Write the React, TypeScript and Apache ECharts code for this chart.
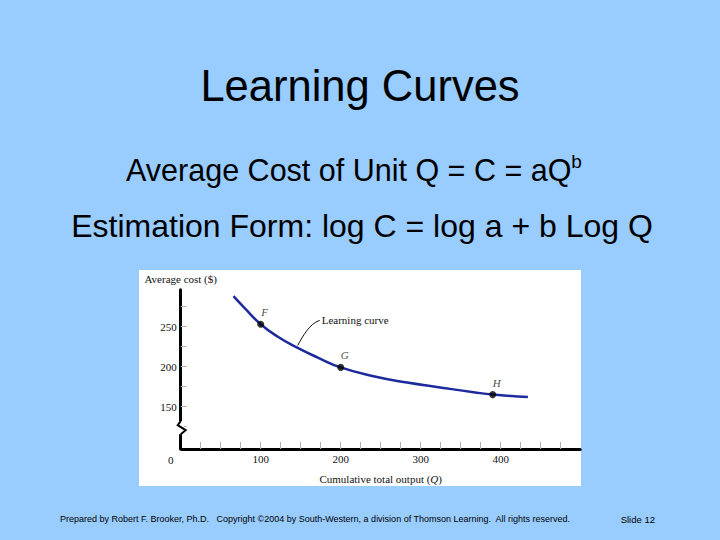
import React, { useEffect, useRef } from "react";
import * as echarts from "echarts";

// Learning curve readings (cumulative output Q, average cost $)
const outputQ = [66, 80, 100, 122, 145, 172, 200, 241, 283, 324, 366, 390, 434];
const averageCost = [288, 273, 253, 237, 224, 211, 199, 188, 180, 174, 168, 165, 162];

// Marked points
const pointNames = ["F", "G", "H"];
const pointQ = [100, 200, 390];
const pointCost = [253, 199, 165];

// Axis ticks / labels
const xTickValues = [25, 50, 75, 100, 125, 150, 175, 200, 225, 250, 275, 300, 325, 350, 375, 400, 425, 450, 475];
const xLabelValues = [0, 100, 200, 300, 400];
const yTickValues = [125, 150, 175, 200, 225, 250, 275];
const yLabelValues = [150, 200, 250];

// Annotation anchors
const leaderAnchor = [145, 224];
const axisBreakValue = 123;

const Y_MIN = 97;
const Y_MAX = 296;

const SANS = "'Liberation Sans', Arial, Helvetica, sans-serif";
const SERIF = "'Liberation Serif', 'Times New Roman', Times, serif";

export default function App() {
  const ref = useRef<HTMLDivElement>(null);

  useEffect(() => {
    if (!ref.current) return;
    const chart = echarts.init(ref.current, null, { renderer: "svg" });

    chart.setOption({
      animation: false,
      backgroundColor: "#99ccff",
      grid: {
        left: 180.7,
        top: 289.8,
        width: 400,
        height: 159.2,
        containLabel: false,
        outerBoundsMode: "none",
      },
      xAxis: {
        type: "value",
        min: 0,
        max: 500,
        splitLine: { show: false },
        axisLine: {
          onZero: false,
          lineStyle: { color: "#000", width: 3, type: [18.5, 1.5], dashOffset: 19.25 },
        },
        axisTick: {
          show: true,
          inside: true,
          length: 7,
          customValues: xTickValues,
          lineStyle: { color: "#b0b0b0", width: 1 },
        },
        axisLabel: {
          customValues: xLabelValues,
          margin: 4,
          color: "#111",
          fontFamily: SERIF,
          fontSize: 11,
          formatter: (v: number) => (v === 0 ? "{zero|0}" : String(v)),
          rich: {
            zero: { padding: [1, 20, 0, 0], fontFamily: SERIF, fontSize: 11, color: "#111" },
          },
        },
        name: "Cumulative total output ({q|Q})",
        nameLocation: "middle",
        nameGap: 24,
        nameTextStyle: {
          color: "#111",
          fontFamily: SERIF,
          fontSize: 11,
          rich: { q: { fontStyle: "italic", fontFamily: SERIF, fontSize: 11, color: "#111" } },
        },
      },
      yAxis: {
        type: "value",
        min: Y_MIN,
        max: Y_MAX,
        splitLine: { show: false },
        axisLine: { show: true, lineStyle: { color: "#000", width: 3 } },
        axisTick: {
          show: true,
          inside: true,
          length: 6,
          customValues: yTickValues,
          lineStyle: { color: "#b0b0b0", width: 1 },
        },
        axisLabel: {
          customValues: yLabelValues,
          margin: 4,
          color: "#111",
          fontFamily: SERIF,
          fontSize: 11,
        },
        name: "Average cost ($)",
        nameLocation: "end",
        nameGap: 5,
        nameTextStyle: { color: "#111", fontFamily: SERIF, fontSize: 11 },
      },
      series: [
        {
          type: "line",
          name: "Learning curve",
          data: outputQ.map((q, i) => [q, averageCost[i]]),
          smooth: 0.5,
          showSymbol: false,
          lineStyle: { color: "#1c2a9c", width: 2.5 },
          z: 2,
        },
        {
          type: "scatter",
          data: pointNames.map((n, i) => ({ name: n, value: [pointQ[i], pointCost[i]] })),
          symbolSize: 7,
          itemStyle: { color: "#000" },
          label: {
            show: true,
            position: "top",
            offset: [4, 2],
            formatter: "{b}",
            fontFamily: SERIF,
            fontStyle: "italic",
            fontSize: 11,
            color: "#111",
          },
          z: 3,
        },
      ],
    });

    const a = chart.convertToPixel({ gridIndex: 0 }, leaderAnchor) as number[];
    const br = chart.convertToPixel({ gridIndex: 0 }, [0, axisBreakValue]) as number[];
    const ax = br[0];
    const cy = br[1];

    chart.setOption({
      graphic: [
        {
          type: "rect",
          z: -10,
          shape: { x: 139, y: 270, width: 442, height: 216 },
          style: { fill: "#ffffff" },
          silent: true,
        },
        {
          type: "text",
          z: 10,
          x: 360,
          y: 86,
          style: {
            text: "Learning Curves",
            fontFamily: SANS,
            fontSize: 43.5,
            fill: "#000",
            align: "center",
            verticalAlign: "middle",
          },
        },
        {
          type: "text",
          z: 10,
          x: 354,
          y: 170,
          style: {
            text: "Average Cost of Unit Q = C = aQ{sup|b}",
            fontFamily: SANS,
            fontSize: 30.5,
            lineHeight: 36,
            fill: "#000",
            align: "center",
            verticalAlign: "middle",
            rich: {
              sup: { fontFamily: SANS, fontSize: 19, fill: "#000", verticalAlign: "top", lineHeight: 22 },
            },
          },
        },
        {
          type: "text",
          z: 10,
          x: 362,
          y: 226,
          style: {
            text: "Estimation Form: log C = log a + b Log Q",
            fontFamily: SANS,
            fontSize: 32,
            fill: "#000",
            align: "center",
            verticalAlign: "middle",
          },
        },
        {
          type: "text",
          z: 10,
          x: 60,
          y: 519,
          style: {
            text: "Prepared by Robert F. Brooker, Ph.D.   Copyright \u00a92004 by South-Western, a division of Thomson Learning.  All rights reserved.",
            fontFamily: SANS,
            fontSize: 9,
            fill: "#000",
            align: "left",
            verticalAlign: "middle",
          },
        },
        {
          type: "text",
          z: 10,
          x: 655,
          y: 519,
          style: {
            text: "Slide 12",
            fontFamily: SANS,
            fontSize: 9.5,
            fill: "#000",
            align: "right",
            verticalAlign: "middle",
          },
        },
        {
          type: "bezierCurve",
          z: 10,
          shape: {
            x1: a[0] + 1,
            y1: a[1] - 2,
            cpx1: a[0] + 6,
            cpy1: a[1] - 11,
            cpx2: a[0] + 13,
            cpy2: a[1] - 24,
            x2: a[0] + 23,
            y2: a[1] - 27,
          },
          style: { stroke: "#111", lineWidth: 1, fill: null },
        },
        {
          type: "text",
          z: 10,
          x: a[0] + 25,
          y: a[1] - 27,
          style: {
            text: "Learning curve",
            fontFamily: SERIF,
            fontSize: 11,
            fill: "#111",
            align: "left",
            verticalAlign: "middle",
          },
        },
        {
          type: "rect",
          z: 20,
          shape: { x: ax - 3, y: cy - 7, width: 6, height: 13 },
          style: { fill: "#ffffff" },
        },
        {
          type: "polyline",
          z: 21,
          shape: {
            points: [
              [ax, cy - 7],
              [ax - 3, cy - 3],
              [ax + 5, cy + 2],
              [ax, cy + 6],
            ],
          },
          style: { stroke: "#000", lineWidth: 2, fill: null },
        },
      ],
    });

    return () => chart.dispose();
  }, []);

  return (
    <div
      ref={ref}
      style={{ position: "fixed", left: 0, top: 0, width: 720, height: 540 }}
    />
  );
}
